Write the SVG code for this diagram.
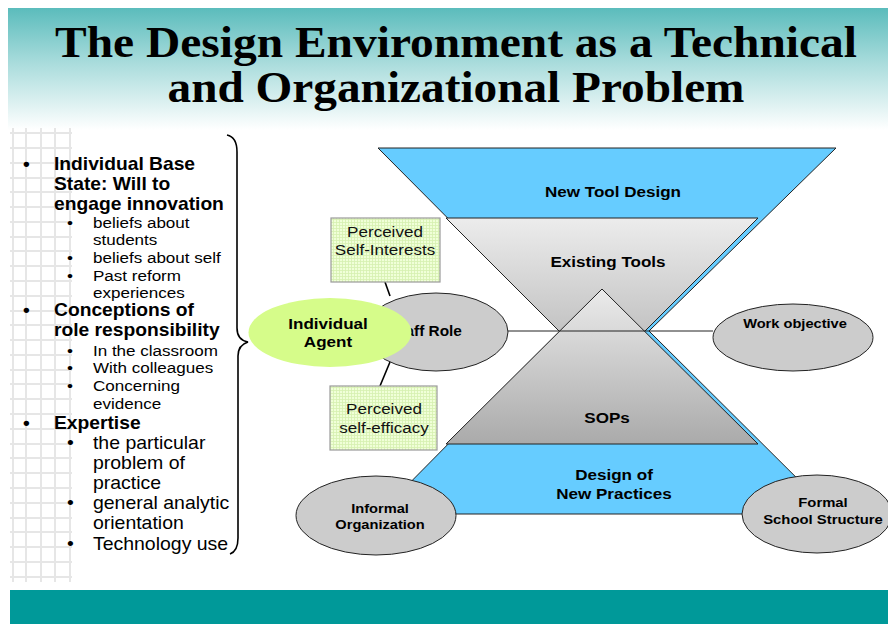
<svg xmlns="http://www.w3.org/2000/svg" width="888" height="624" viewBox="0 0 888 624">
<defs>
<linearGradient id="titleGrad" x1="0" y1="0" x2="0" y2="1">
<stop offset="0" stop-color="#5bbcbc"/>
<stop offset="0.45" stop-color="#a9dcdc"/>
<stop offset="1" stop-color="#ffffff"/>
</linearGradient>
<linearGradient id="gTools" x1="0" y1="0" x2="0" y2="1">
<stop offset="0" stop-color="#ececec"/>
<stop offset="1" stop-color="#b4b4b4"/>
</linearGradient>
<linearGradient id="gSops" x1="0" y1="0" x2="0" y2="1">
<stop offset="0" stop-color="#ebebeb"/>
<stop offset="1" stop-color="#aaaaaa"/>
</linearGradient>
<pattern id="greenGrid" width="3" height="3" patternUnits="userSpaceOnUse">
<rect width="3" height="3" fill="#f0ffd8"/>
<path d="M0,0.5H3M0.5,0V3" stroke="#d6f0b0" stroke-width="0.8"/>
</pattern>
<style>
.title{font-family:"Liberation Serif",serif;font-weight:bold;font-size:44px;fill:#000}
.lbl{font-family:"Liberation Sans",Arial,sans-serif;font-weight:bold;fill:#000;text-anchor:middle}
.box{font-family:"Liberation Sans",Arial,sans-serif;font-size:15.5px;fill:#111;text-anchor:middle}
.main{font-family:"Liberation Sans",Arial,sans-serif;font-weight:bold;font-size:17.5px;fill:#000}
.sub{font-family:"Liberation Sans",Arial,sans-serif;font-size:15.5px;fill:#000}
.sub2{font-family:"Liberation Sans",Arial,sans-serif;font-size:17.7px;fill:#000}
.ell{fill:#cccccc;stroke:#222;stroke-width:1}
.edge{stroke:#222;stroke-width:1;fill:none}
.conn{stroke:#000;stroke-width:1.6;fill:none}
.grid{stroke:#e6e6e6;stroke-width:2}
.pbox{fill:url(#greenGrid);stroke:#9a9a9a;stroke-width:1.2}
</style>
</defs>
<rect width="888" height="624" fill="#ffffff"/>
<!-- title band -->
<rect x="8" y="8" width="880" height="122" fill="url(#titleGrad)"/>
<text class="title" x="456" y="57" text-anchor="middle" textLength="802" lengthAdjust="spacingAndGlyphs">The Design Environment as a Technical</text>
<text class="title" x="456" y="102" text-anchor="middle" textLength="577" lengthAdjust="spacingAndGlyphs">and Organizational Problem</text>
<!-- left grid -->
<g id="grid">
<path class="grid" d="M13,128V582M26,128V582M41,128V582M55,128V582M70,128V582"/>
<path class="grid" d="M10,133H72M10,148H72M10,163H72M10,178H72M10,192H72M10,207H72M10,222H72M10,237H72M10,251H72M10,266H72M10,281H72M10,296H72M10,311H72M10,325H72M10,340H72M10,355H72M10,370H72M10,384H72M10,399H72M10,414H72M10,429H72M10,444H72M10,458H72M10,473H72M10,488H72M10,503H72M10,518H72M10,532H72M10,547H72M10,562H72M10,577H72"/>
</g>
<!-- bottom bar -->
<rect x="10" y="590" width="878" height="34" fill="#009999"/>
<!-- left bullet list -->
<g id="list" transform="scale(1.1,1)">
<text class="main" x="20.9" y="170">•</text>
<text class="main" x="49.1" y="170">Individual Base</text>
<text class="main" x="49.1" y="190">State: Will to</text>
<text class="main" x="49.1" y="210">engage innovation</text>
<text class="sub" x="60.9" y="228">•</text>
<text class="sub" x="84.5" y="228">beliefs about</text>
<text class="sub" x="84.5" y="245">students</text>
<text class="sub" x="60.9" y="263">•</text>
<text class="sub" x="84.5" y="263">beliefs about self</text>
<text class="sub" x="60.9" y="281">•</text>
<text class="sub" x="84.5" y="281">Past reform</text>
<text class="sub" x="84.5" y="298">experiences</text>
<text class="main" x="20.9" y="316">•</text>
<text class="main" x="49.1" y="316">Conceptions of</text>
<text class="main" x="49.1" y="336">role responsibility</text>
<text class="sub" x="60.9" y="356">•</text>
<text class="sub" x="84.5" y="356">In the classroom</text>
<text class="sub" x="60.9" y="373">•</text>
<text class="sub" x="84.5" y="373">With colleagues</text>
<text class="sub" x="60.9" y="391">•</text>
<text class="sub" x="84.5" y="391">Concerning</text>
<text class="sub" x="84.5" y="409">evidence</text>
<text class="main" x="20.9" y="429">•</text>
<text class="main" x="49.1" y="429">Expertise</text>
<text class="sub2" x="60.9" y="449">•</text>
<text class="sub2" x="84.5" y="449">the particular</text>
<text class="sub2" x="84.5" y="469">problem of</text>
<text class="sub2" x="84.5" y="489">practice</text>
<text class="sub2" x="60.9" y="509">•</text>
<text class="sub2" x="84.5" y="509">general analytic</text>
<text class="sub2" x="84.5" y="529">orientation</text>
<text class="sub2" x="60.9" y="550">•</text>
<text class="sub2" x="84.5" y="550">Technology use</text>
</g>
<!-- brace -->
<g id="brace">
<path class="conn" d="M227,135 Q237,137 237,152 L237,328 Q237,340 248,342 Q238,345 238,356 L238,538 Q238,551 230,554"/>
</g>
<!-- hourglass shapes -->
<g id="blue-hourglass">
<polygon points="378,148 836,148 649,331 833,514 379,514 560,331" fill="#66ccff" stroke="#222" stroke-width="1"/>
<text class="lbl" font-size="15.5" transform="translate(613,197) scale(1.1,1)">New Tool Design</text>
<text class="lbl" font-size="15.5" transform="translate(614,480) scale(1.1,1)">Design of<tspan x="0" dy="19">New Practices</tspan></text>
</g>
<g id="existing-tools">
<polygon points="446,218 758,218 602,374" fill="url(#gTools)" stroke="#222" stroke-width="1"/>
<text class="lbl" font-size="15.5" transform="translate(608,267) scale(1.1,1)">Existing Tools</text>
</g>
<g id="sops">
<polygon points="602,289 758,444 446,444" fill="url(#gSops)" stroke="#222" stroke-width="1"/>
<text class="lbl" font-size="15.5" transform="translate(607,423) scale(1.1,1)">SOPs</text>
</g>
<!-- connectors -->
<g id="connectors">
<line class="edge" x1="508" y1="331" x2="713" y2="331"/>
<line class="conn" x1="385" y1="282" x2="390" y2="296"/>
<line class="conn" x1="390" y1="362" x2="380" y2="386"/>
</g>
<!-- nodes -->
<g id="work-objective">
<ellipse class="ell" cx="793" cy="337.5" rx="80" ry="33.5"/>
<text class="lbl" font-size="13.3" transform="translate(795,328) scale(1.1,1)">Work objective</text>
</g>
<g id="informal-organization">
<ellipse class="ell" cx="376" cy="515.5" rx="80" ry="39.5"/>
<text class="lbl" font-size="13.3" transform="translate(380,513) scale(1.1,1)">Informal<tspan x="0" dy="16.5">Organization</tspan></text>
</g>
<g id="formal-school-structure">
<ellipse class="ell" cx="817" cy="514" rx="75" ry="39"/>
<text class="lbl" font-size="13.5" transform="translate(823,507) scale(1.1,1)">Formal<tspan x="0" dy="17">School Structure</tspan></text>
</g>
<g id="staff-role">
<ellipse class="ell" cx="436" cy="332" rx="72" ry="39"/>
<text class="lbl" font-size="14" transform="translate(426,336) scale(1.1,1)">Staff Role</text>
</g>
<g id="individual-agent">
<ellipse cx="330" cy="332.5" rx="81.5" ry="34.5" fill="#d6fc8a"/>
<text class="lbl" font-size="15.5" transform="translate(328,329) scale(1.1,1)">Individual<tspan x="0" dy="18.5">Agent</tspan></text>
</g>
<g id="perceived-self-interests">
<rect class="pbox" x="331" y="218" width="109" height="64"/>
<text class="box" transform="translate(385,237) scale(1.1,1)">Perceived<tspan x="0" dy="18">Self-Interests</tspan></text>
</g>
<g id="perceived-self-efficacy">
<rect class="pbox" x="330" y="386" width="107" height="64"/>
<text class="box" transform="translate(384,414) scale(1.1,1)">Perceived<tspan x="0" dy="19">self-efficacy</tspan></text>
</g>
</svg>
